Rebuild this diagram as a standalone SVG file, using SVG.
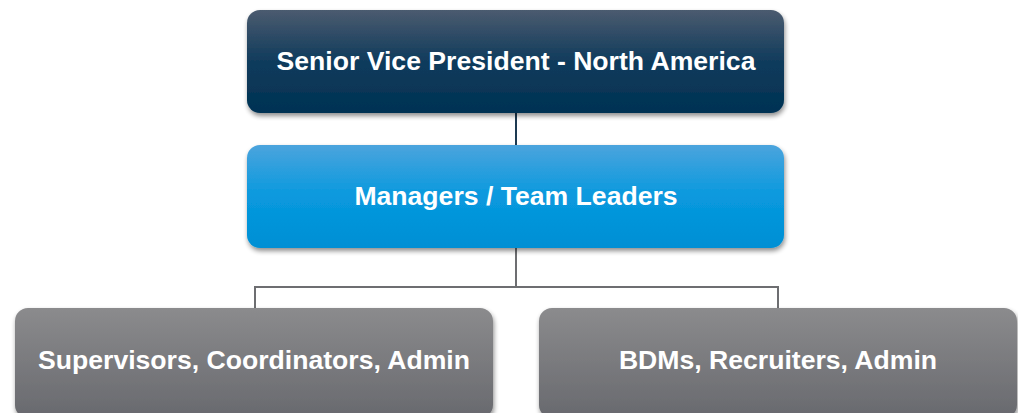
<svg xmlns="http://www.w3.org/2000/svg" width="1018" height="413" viewBox="0 0 1018 413">
<style>
.lbl{font-family:"Liberation Sans",Arial,sans-serif;font-weight:bold;font-size:26.6px;fill:#ffffff;text-anchor:middle}
</style>
<defs>
<linearGradient id="gTop" x1="0" y1="0" x2="0" y2="1">
<stop offset="0" stop-color="#4b5b6f"/>
<stop offset="0.5" stop-color="#103b5c"/>
<stop offset="1" stop-color="#003253"/>
</linearGradient>
<linearGradient id="gMid" x1="0" y1="0" x2="0" y2="1">
<stop offset="0" stop-color="#4ba4dd"/>
<stop offset="0.5" stop-color="#0899de"/>
<stop offset="1" stop-color="#008fd4"/>
</linearGradient>
<linearGradient id="gBot" x1="0" y1="0" x2="0" y2="1">
<stop offset="0" stop-color="#8b8b8d"/>
<stop offset="1" stop-color="#68696e"/>
</linearGradient>
<filter id="sh" x="-5%" y="-10%" width="110%" height="130%">
<feGaussianBlur in="SourceAlpha" stdDeviation="2.5"/>
<feOffset dx="1" dy="3" result="b"/>
<feComponentTransfer><feFuncA type="linear" slope="0.45"/></feComponentTransfer>
<feMerge><feMergeNode/><feMergeNode in="SourceGraphic"/></feMerge>
</filter>
</defs>
<g id="connectors" fill="none">
<line x1="516" y1="113" x2="516" y2="145" stroke="#1d3a52" stroke-width="2"/>
<polyline points="516,248 516,287 255,287 255,309" stroke="#6d6e71" stroke-width="2"/>
<polyline points="516,287 778,287 778,309" stroke="#6d6e71" stroke-width="2"/>
</g>
<g id="node-svp">
<rect x="247" y="10" width="537" height="103" rx="13" fill="url(#gTop)" filter="url(#sh)"/>
<text class="lbl" x="516" y="70">Senior Vice President - North America</text>
</g>
<g id="node-managers">
<rect x="247" y="145" width="537" height="103" rx="13" fill="url(#gMid)" filter="url(#sh)"/>
<text class="lbl" x="516" y="205">Managers / Team Leaders</text>
</g>
<g id="node-supervisors">
<rect x="15" y="308" width="478" height="110" rx="13" fill="url(#gBot)" filter="url(#sh)"/>
<text class="lbl" x="254" y="369">Supervisors, Coordinators, Admin</text>
</g>
<g id="node-bdms">
<rect x="539" y="308" width="478" height="110" rx="13" fill="url(#gBot)" filter="url(#sh)"/>
<text class="lbl" x="778" y="369">BDMs, Recruiters, Admin</text>
</g>
</svg>
